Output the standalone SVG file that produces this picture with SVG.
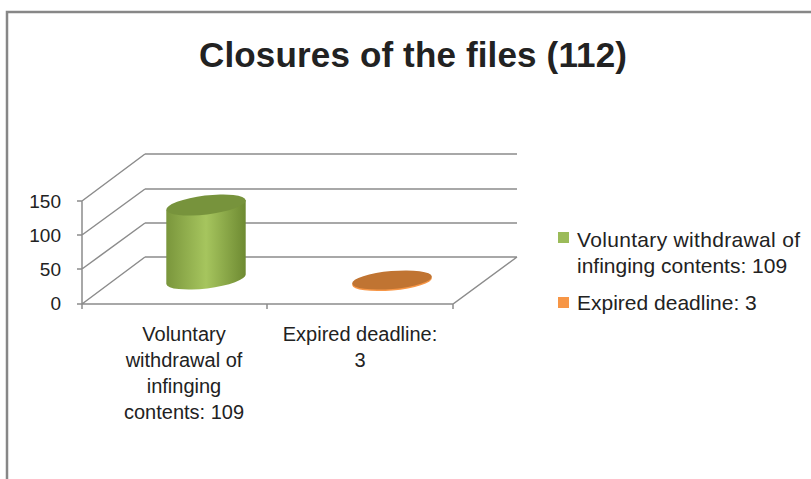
<svg xmlns="http://www.w3.org/2000/svg" width="811" height="479" viewBox="0 0 811 479">
<defs>
<linearGradient id="gBody" x1="0" y1="0" x2="1" y2="0">
<stop offset="0" stop-color="#7a963c"/>
<stop offset="0.5" stop-color="#a6c55e"/>
<stop offset="1" stop-color="#6e8a32"/>
</linearGradient>
<style>
.grid{stroke:#8c8c8c;stroke-width:1.5;fill:none}
.t{font-family:"Liberation Sans",Arial,sans-serif;fill:#222}
.ax{font-size:19px;text-anchor:end}
.cat{font-size:20px;text-anchor:middle}
.leg{font-size:21px}
</style>
</defs>
<rect width="811" height="479" fill="#fff"/>
<path d="M7,479 V12 H811" stroke="#878787" stroke-width="2.5" fill="none"/>
<text class="t" x="413" y="67" font-size="35" font-weight="bold" text-anchor="middle" textLength="428" fill="#000">Closures of the files (112)</text>
<g id="axes">
<path class="grid" d="M145,154 H517 M145,189 H517 M145,223 H517 M145,257 H517 M82,201 L145,154 M82,235 L145,189 M82,269 L145,223 M82,304 L145,257 M82,201 V304 M77,201 H82 M77,235 H82 M77,269 H82 M77,304 H82 M82,304 H453 L517,257 M82,304 V309 M267,304 V309 M453,304 V309"/>
<text class="t ax" x="61" y="208">150</text>
<text class="t ax" x="61" y="242">100</text>
<text class="t ax" x="61" y="276">50</text>
<text class="t ax" x="61" y="310">0</text>
</g>
<g id="bar-voluntary">
<path d="M166.3,209.9 L166.3,283.9 A40,9.5 -7 0 0 245.7,274.1 L245.7,200.1 Z" fill="url(#gBody)"/>
<ellipse cx="206" cy="205" rx="40" ry="9.5" transform="rotate(-7 206 205)" fill="#77933c"/>
</g>
<g id="bar-expired">
<ellipse cx="392" cy="281.5" rx="40" ry="9" transform="rotate(-5 392 281.5)" fill="#f79646"/>
<ellipse cx="392" cy="280" rx="40" ry="9" transform="rotate(-5 392 280)" fill="#c07432"/>
</g>
<g id="category-labels">
<text class="t cat" x="184" y="341">Voluntary</text>
<text class="t cat" x="184" y="367">withdrawal of</text>
<text class="t cat" x="184" y="393">infinging</text>
<text class="t cat" x="184" y="419">contents: 109</text>
<text class="t cat" x="360" y="341">Expired deadline:</text>
<text class="t cat" x="360" y="367">3</text>
</g>
<g id="legend">
<rect x="558" y="232" width="11" height="11" fill="#9bbb59"/>
<text class="t leg" x="577" y="247" textLength="223">Voluntary withdrawal of</text>
<text class="t leg" x="577" y="273">infinging contents: 109</text>
<rect x="558" y="297" width="11" height="11" fill="#f79646"/>
<text class="t leg" x="577" y="310">Expired deadline: 3</text>
</g>
</svg>
